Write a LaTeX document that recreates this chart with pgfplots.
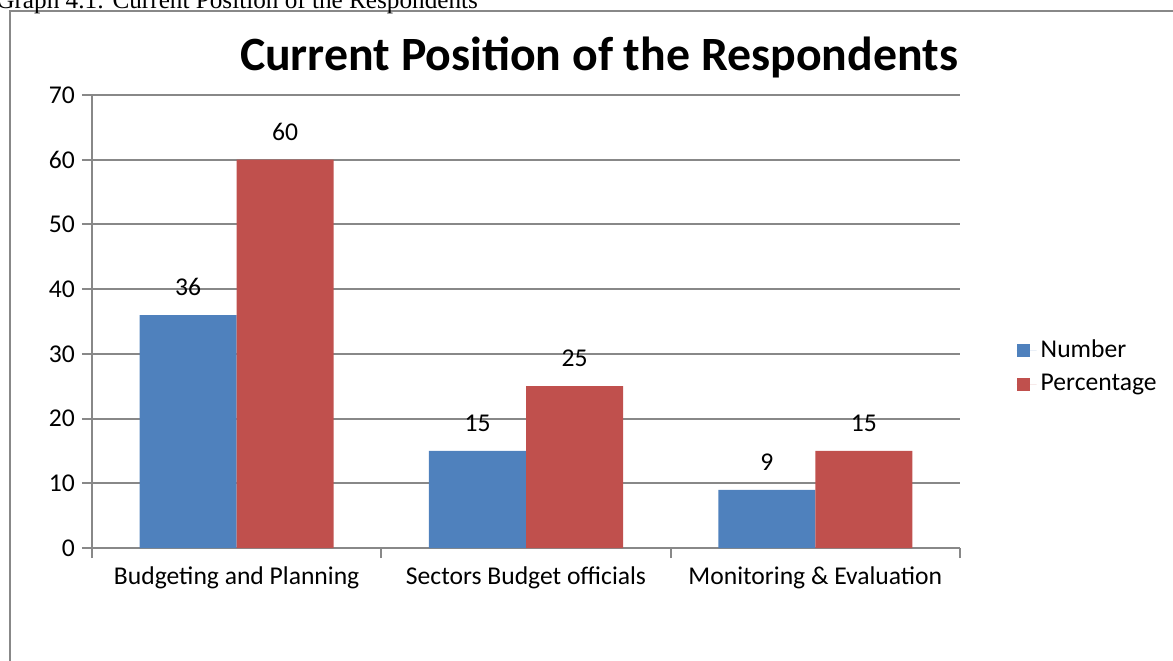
\documentclass[border=0pt]{standalone}
\usepackage{pgfplots}
\pgfplotsset{compat=1.18}
\usepackage{fontspec}
\setmainfont{Carlito}
\newfontfamily\capfont{Liberation Serif}
\definecolor{xblue}{HTML}{4F81BD}
\definecolor{xred}{HTML}{C0504D}
\definecolor{xgray}{HTML}{888888}
\begin{document}
\begin{tikzpicture}[x=1pt,y=1pt]
\path[use as bounding box] (0,0) rectangle (586.5,330);
\clip (0,0) rectangle (586.5,330);
\draw[xgray, line width=1pt] (4.75,-20) -- (4.75,324.5) -- (620,324.5);
\node[anchor=base west, inner sep=0pt, font=\capfont\fontsize{12.6}{14}\selectfont] at (-2,325.6) {Graph 4.1: Current Position of the Respondents};
\node[anchor=base, inner sep=0pt, font=\bfseries\fontsize{23.9}{28}\selectfont] at (299.5,294.5) {Current Position of the Respondents};
\begin{axis}[
  at={(46pt,56pt)}, anchor=south west, scale only axis,
  width=434pt, height=226.5pt,
  xmin=-0.5, xmax=2.5, ymin=0, ymax=70,
  ytick={0,10,...,70},
  xtick={-0.5,0.5,1.5,2.5}, xticklabels={},
  extra x ticks={0,1,2},
  extra x tick labels={Budgeting and Planning, Sectors Budget officials, Monitoring \& Evaluation},
  extra x tick style={major tick length=0pt, xticklabel style={yshift=-6pt}},
  axis x line*=bottom, axis y line*=left,
  axis line style={-, xgray, line width=1pt},
  tick style={xgray, line width=1pt},
  tick align=outside, major tick length=5pt,
  ymajorgrids, grid style={xgray, line width=1pt},
  /pgf/number format/assume math mode=true,
  ticklabel style={font=\fontsize{12.8}{15}\selectfont, text=black},
  ybar=0pt, bar width=48.5pt,
  nodes near coords,
  every node near coord/.append style={font=\fontsize{12.8}{15}\selectfont, text=black, yshift=6pt},
  legend style={at={(1.058,0.40)}, anchor=west, draw=none, fill=none,
    font=\fontsize{12.8}{15}\selectfont, row sep=3pt},
  legend cell align=left,
  legend image code/.code={\fill[#1] (0pt,-3.25pt) rectangle (6.5pt,3.25pt); \path (0pt,0pt) -- (10pt,0pt);},
]
\addplot[fill=xblue, draw=none] coordinates {(0,36) (1,15) (2,9)};
\addplot[fill=xred, draw=none] coordinates {(0,60) (1,25) (2,15)};
\legend{Number, Percentage}
\end{axis}
\end{tikzpicture}
\end{document}
